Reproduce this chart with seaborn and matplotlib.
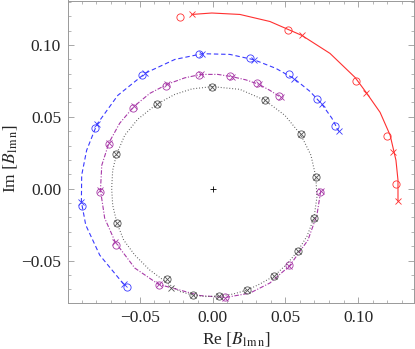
import numpy as np
import pandas as pd
import matplotlib
matplotlib.use('Agg')
import matplotlib.pyplot as plt
import seaborn as sns
from matplotlib.ticker import MultipleLocator

# values (Re, Im)
red_line_re = [-0.0142, -0.0005, 0.0188, 0.0394, 0.0614, 0.0807, 0.0979, 0.1055, 0.1151, 0.1220, 0.1260, 0.1274, 0.1274]
red_line_im = [0.1212, 0.1222, 0.1212, 0.1163, 0.1066, 0.0941, 0.0774, 0.0670, 0.0531, 0.0372, 0.0198, 0.0059, -0.0087]
red_o_re = [-0.0225, 0.0516, 0.0983, 0.1201, 0.1259]
red_o_im = [0.1191, 0.1106, 0.0751, 0.0369, 0.0036]
red_x_re = [-0.0142, 0.0616, 0.1056, 0.1242, 0.1272]
red_x_im = [0.1212, 0.1068, 0.0668, 0.0256, -0.0085]

blue_line_re = [-0.0610, -0.0775, -0.0871, -0.0901, -0.0899, -0.0865, -0.0794, -0.0651, -0.0461, -0.0259,
                -0.0069, 0.0119, 0.0284, 0.0435, 0.0561, 0.0669, 0.0752, 0.0820, 0.0867]
blue_line_im = [-0.0665, -0.0462, -0.0253, -0.0092, 0.0094, 0.0267, 0.0448, 0.0649, 0.0804, 0.0899,
                0.0939, 0.0934, 0.0897, 0.0837, 0.0765, 0.0677, 0.0587, 0.0490, 0.0399]
blue_o_re = [-0.0591, -0.0894, -0.0805, -0.0484, -0.0094, 0.0257, 0.0527, 0.0719, 0.0839]
blue_o_im = [-0.0682, -0.0122, 0.0422, 0.0788, 0.0934, 0.0911, 0.0795, 0.0622, 0.0436]
blue_x_re = [-0.0610, -0.0901, -0.0794, -0.0461, -0.0069, 0.0284, 0.0561, 0.0752, 0.0867]
blue_x_im = [-0.0665, -0.0092, 0.0448, 0.0804, 0.0939, 0.0897, 0.0765, 0.0587, 0.0399]

purple_line_re = [0.0743, 0.0717, 0.0655, 0.0528, 0.0394, 0.0257, 0.0088, -0.0087, -0.0225, -0.0371,
                  -0.0534, -0.0667, -0.0741, -0.0770, -0.0761, -0.0711, -0.0638, -0.0539, -0.0431, -0.0312,
                  -0.0191, -0.0080, 0.0036, 0.0135, 0.0229, 0.0318, 0.0394, 0.0470]
purple_line_im = [-0.0017, -0.0184, -0.0358, -0.0538, -0.0656, -0.0726, -0.0757, -0.0743, -0.0705, -0.0665,
                  -0.0552, -0.0374, -0.0205, -0.0010, 0.0163, 0.0321, 0.0455, 0.0573, 0.0663, 0.0726,
                  0.0771, 0.0795, 0.0795, 0.0779, 0.0757, 0.0726, 0.0684, 0.0635]
purple_o_re = [0.0738, 0.0527, 0.0085, -0.0367, -0.0665, -0.0770, -0.0713, -0.0546, -0.0323, -0.0094, 0.0122, 0.0307, 0.0456]
purple_o_im = [-0.0026, -0.0531, -0.0753, -0.0670, -0.0390, -0.0024, 0.0313, 0.0561, 0.0714, 0.0788, 0.0785, 0.0735, 0.0644]
purple_x_re = [0.0743, 0.0528, 0.0088, -0.0371, -0.0667, -0.0770, -0.0711, -0.0539, -0.0312, -0.0080, 0.0135, 0.0318, 0.0470]
purple_x_im = [-0.0017, -0.0538, -0.0757, -0.0665, -0.0374, -0.0010, 0.0321, 0.0573, 0.0726, 0.0795, 0.0779, 0.0726, 0.0635]

black_line_re = [-0.0003, 0.0188, 0.0360, 0.0497, 0.0605, 0.0676, 0.0710, 0.0717, 0.0697, 0.0649,
                 0.0585, 0.0511, 0.0422, 0.0325, 0.0238, 0.0140, 0.0043, -0.0053, -0.0133, -0.0225,
                 -0.0301, -0.0431, -0.0534, -0.0610, -0.0656, -0.0686, -0.0693, -0.0686, -0.0660, -0.0603,
                 -0.0514, -0.0385, -0.0259, -0.0142, -0.0003]
black_line_im = [0.0710, 0.0691, 0.0615, 0.0510, 0.0378, 0.0233, 0.0080, -0.0059, -0.0203, -0.0330,
                 -0.0434, -0.0524, -0.0608, -0.0663, -0.0705, -0.0733, -0.0747, -0.0750, -0.0740, -0.0715,
                 -0.0663, -0.0566, -0.0462, -0.0358, -0.0242, -0.0115, 0.0003, 0.0128, 0.0238, 0.0372,
                 0.0483, 0.0587, 0.0656, 0.0694, 0.0710]
black_o_re = [-0.0385, -0.0003, 0.0360, 0.0605, 0.0710, 0.0697, 0.0585, 0.0422, 0.0238, 0.0043, -0.0133, -0.0312, -0.0656, -0.0660]
black_o_im = [0.0587, 0.0710, 0.0615, 0.0378, 0.0080, -0.0203, -0.0434, -0.0608, -0.0705, -0.0747, -0.0740, -0.0631, -0.0242, 0.0238]
black_x_re = black_o_re + [-0.0282]
black_x_im = black_o_im + [-0.0694]

series = [
    ('#ff3030', '-', (red_line_re, red_line_im), (red_o_re, red_o_im), (red_x_re, red_x_im)),
    ('#3a3aff', (0, (4, 2.5)), (blue_line_re, blue_line_im), (blue_o_re, blue_o_im), (blue_x_re, blue_x_im)),
    ('#a83aa8', (0, (4, 1.5, 1, 1.5)), (purple_line_re, purple_line_im), (purple_o_re, purple_o_im), (purple_x_re, purple_x_im)),
    ('#555555', (0, (0.8, 1.8)), (black_line_re, black_line_im), (black_o_re, black_o_im), (black_x_re, black_x_im)),
]

sns.set_style('ticks')
plt.rcParams['font.family'] = ['Liberation Serif', 'DejaVu Serif']
plt.rcParams['mathtext.fontset'] = 'stix'

fig = plt.figure(figsize=(4.15, 3.49), dpi=100)
ax = fig.add_axes([68 / 415, 46 / 349, 346 / 415, 302.5 / 349])

for color, ls, line, circ, cross in series:
    df = pd.DataFrame({'re': line[0], 'im': line[1]})
    sns.lineplot(data=df, x='re', y='im', sort=False, estimator=None, color=color,
                 linewidth=0.8, linestyle=ls, ax=ax)
    ax.plot(circ[0], circ[1], linestyle='none', marker='o', markersize=5.2,
            markerfacecolor='none', markeredgecolor=color, markeredgewidth=0.6)
    ax.plot(cross[0], cross[1], linestyle='none', marker='x', markersize=4.2,
            color=color, markeredgewidth=0.6)

ax.plot([0.0], [0.0], linestyle='none', marker='+', markersize=4.5, color='black', markeredgewidth=0.6)

ax.set_xlim(-0.0993, 0.1384)
ax.set_ylim(-0.0795, 0.1309)
ax.xaxis.set_major_locator(MultipleLocator(0.05))
ax.yaxis.set_major_locator(MultipleLocator(0.05))
ax.xaxis.set_minor_locator(MultipleLocator(0.01))
ax.yaxis.set_minor_locator(MultipleLocator(0.01))
ax.xaxis.set_major_formatter(lambda v, p: f'{v:.2f}'.replace('-', '\u2212'))
ax.yaxis.set_major_formatter(lambda v, p: f'{v:.2f}'.replace('-', '\u2212'))
ax.tick_params(which='both', direction='in', top=True, right=True, color='#999999')
ax.tick_params(which='major', length=4, width=0.6, labelsize=12.5, pad=5)
ax.tick_params(which='minor', length=2.2, width=0.5)
for s in ax.spines.values():
    s.set_color('#999999')
    s.set_linewidth(0.7)

ax.set_xlabel(r'Re $[B_{\mathrm{l\,m\,n}}]$', fontsize=12.5)
ax.set_ylabel(r'Im $[B_{\mathrm{l\,m\,n}}]$', fontsize=12.5)
ax.xaxis.set_label_coords(0.5 + (236 - 241) / 346, -0.09)
ax.yaxis.set_label_coords(-0.14, 0.479)

fig.savefig('out.png', dpi=100)
